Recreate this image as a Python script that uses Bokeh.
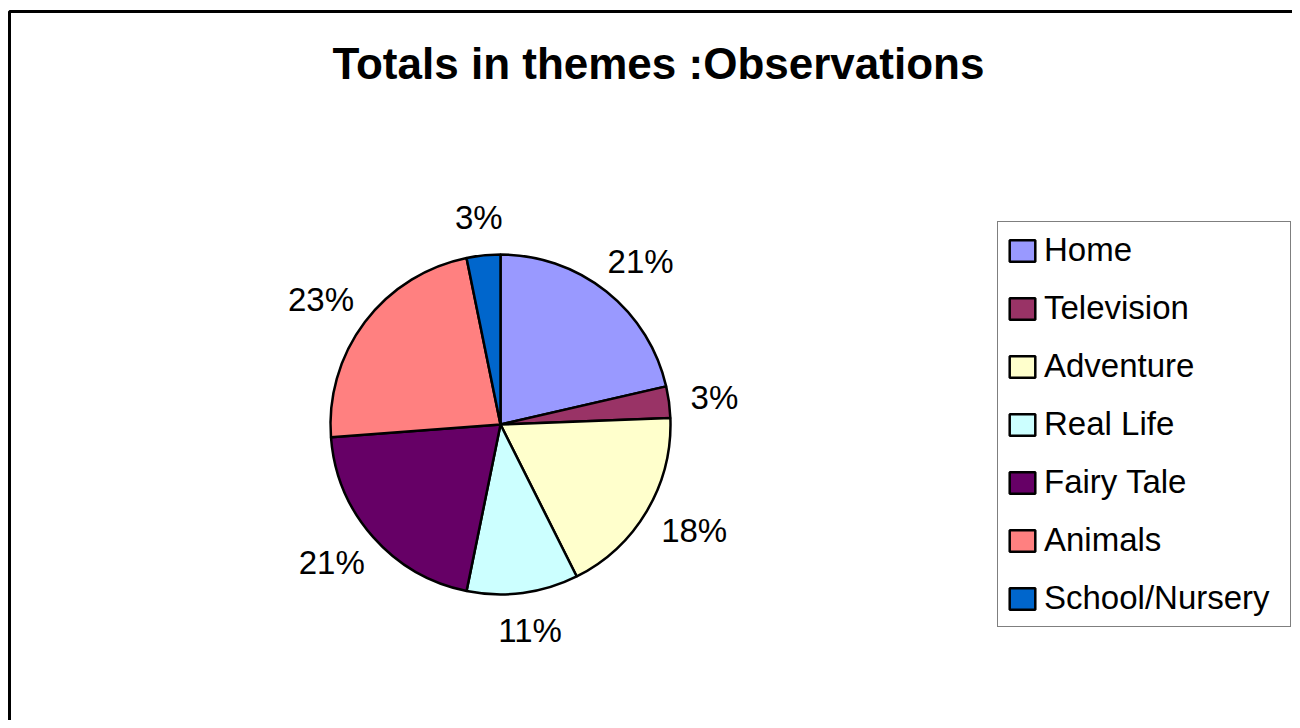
import numpy as np
from bokeh.plotting import figure
from bokeh.models import ColumnDataSource, Range1d, Legend, LegendItem, Label, BoxAnnotation
from bokeh.core.properties import value
from bokeh.embed import file_html
from bokeh.resources import INLINE

# ---- data ----
themes = ["Home", "Television", "Adventure", "Real Life", "Fairy Tale", "Animals", "School/Nursery"]
shares = [21.4, 3.0, 18.2, 10.6, 20.6, 23.0, 3.2]
colors = ["#9999FF", "#993366", "#FFFFCC", "#CCFFFF", "#660066", "#FF8080", "#0066CC"]
title_text = "Totals  in themes :Observations"

W, H = 1292, 720
FONT = "Liberation Sans"

p = figure(width=W, height=H, x_range=Range1d(0, W), y_range=Range1d(0, H),
           x_axis_location=None, y_axis_location=None, min_border=0,
           toolbar_location=None, output_backend="svg", outline_line_color=None)
p.grid.visible = False
p.background_fill_color = "white"
p.border_fill_color = "white"

# chart-area frame (its right and bottom edges lie outside the picture)
p.add_layout(BoxAnnotation(left=9, top=H - 11, right=W + 40, bottom=-40,
                           fill_alpha=0, line_color="black", line_alpha=1.0, line_width=3))

# pie geometry
cx, cy, R = 500, 296, 170
vals = np.array(shares, dtype=float)
frac = vals / vals.sum()
cum = np.concatenate([[0.0], np.cumsum(frac)])
start = np.pi / 2 - 2 * np.pi * cum[:-1]
end = np.pi / 2 - 2 * np.pi * cum[1:]
mid = (start + end) / 2

labels = [f"{int(round(s))}%" for s in shares]
fs = 33
hw = np.array([0.5 * fs * (0.556 * (len(t) - 1) + 0.889) for t in labels])
hh = 13
lx = cx + 192 * np.cos(mid) + hw * np.cos(mid)
ly = cy + 195 * np.sin(mid) + hh * np.sin(mid)

src = ColumnDataSource(dict(theme=themes, start=start, end=end, color=colors,
                            lx=lx, ly=ly, label=labels))

r = p.wedge(x=cx, y=cy, radius=R, start_angle="start", end_angle="end", direction="clock",
            fill_color="color", line_color="black", line_width=2.5, source=src)

p.text(x="lx", y="ly", text="label", source=src, text_align="center", text_baseline="middle",
       text_font=value(FONT), text_font_size=f"{fs}px", text_color="black")

# title
p.add_layout(Label(x=664, y=H - 63, text=title_text, text_align="center", text_baseline="middle",
                   text_font=FONT, text_font_size="44px", text_font_style="bold", text_color="black"))

# legend
items = [LegendItem(label=t, renderers=[r], index=i) for i, t in enumerate(themes)]
legend = Legend(items=items, location=(997, 93), orientation="vertical",
                glyph_width=32, glyph_height=27, label_height=40, label_width=238, spacing=18,
                padding=8, margin=0, label_standoff=6,
                label_text_font=FONT, label_text_font_size="33px", label_text_color="black",
                border_line_color="black", border_line_width=1,
                background_fill_color="white", background_fill_alpha=1.0)
p.add_layout(legend, "center")

open("out.html", "w").write(file_html(p, INLINE))
